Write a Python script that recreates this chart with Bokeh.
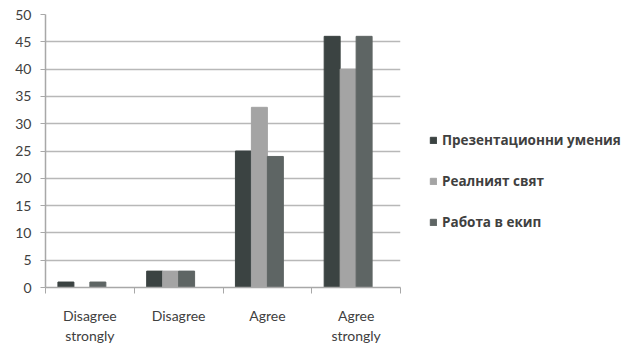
from bokeh.plotting import figure
from bokeh.models import (Range1d, FixedTicker, Legend, LegendItem, ColumnDataSource, LinearAxis)
from bokeh.embed import file_html
from bokeh.resources import INLINE

categories = ["Disagree\nstrongly", "Disagree", "Agree", "Agree\nstrongly"]
series_names = ["Презентационни умения", "Реалният свят", "Работа в екип"]
presentation = [1, 3, 25, 46]
real_world = [0, 3, 33, 40]
teamwork = [1, 3, 24, 46]
y_ticks = list(range(0, 51, 5))

colors = ["#3b4342", "#a4a4a4", "#5e6564"]
offsets = [-0.27, -0.09, 0.09]
bar_w = 0.18

p = figure(frame_width=355, frame_height=273, output_backend="svg", toolbar_location=None,
           x_range=Range1d(0, len(categories)), y_range=Range1d(0, 50),
           x_axis_location=None, y_axis_location=None,
           min_border_left=45, min_border_right=225, min_border_top=14, min_border_bottom=63)
p.outline_line_color = None
p.background_fill_color = "white"
p.border_fill_color = "white"

centers = [i + 0.5 for i in range(len(categories))]
xa = LinearAxis(ticker=FixedTicker(ticks=centers, minor_ticks=list(range(len(categories) + 1))))
xa.major_label_overrides = {c: lab for c, lab in zip(centers, categories)}
xa.major_tick_line_color = None
xa.minor_tick_line_color = "#a8a8a8"
xa.minor_tick_out = 6
xa.minor_tick_in = 0
xa.axis_line_color = "#a8a8a8"
xa.axis_line_width = 1.5
xa.major_label_text_font = "Lato"
xa.major_label_text_font_size = "14px"
xa.major_label_text_color = "#404040"
xa.major_label_standoff = 13
p.add_layout(xa, "below")

ya = LinearAxis(ticker=FixedTicker(ticks=y_ticks))
ya.major_tick_out = 5
ya.major_tick_in = 0
ya.minor_tick_line_color = None
ya.major_tick_line_color = "#a8a8a8"
ya.axis_line_color = "#a8a8a8"
ya.axis_line_width = 1.5
ya.major_label_text_font = "Lato"
ya.major_label_text_font_size = "14px"
ya.major_label_text_color = "#404040"
ya.major_label_standoff = 9
p.add_layout(ya, "left")

p.xgrid.visible = False
p.ygrid.ticker = FixedTicker(ticks=y_ticks)
p.ygrid.grid_line_color = "#b8b8b8"
p.ygrid.grid_line_width = 1.5

items = []
for name, vals, col, off in zip(series_names, [presentation, real_world, teamwork], colors, offsets):
    src = ColumnDataSource(dict(x=[c + off for c in centers], top=vals))
    r = p.vbar(x="x", top="top", width=bar_w, source=src, fill_color=col, line_color=col)
    items.append(LegendItem(label=name, renderers=[r]))

legend = Legend(items=items, location=(29, 56), orientation="vertical")
legend.border_line_color = None
legend.background_fill_alpha = 0
legend.label_text_font = "Open Sans"
legend.label_text_font_style = "bold"
legend.label_text_font_size = "13.5px"
legend.label_text_color = "#404040"
legend.glyph_width = 8
legend.glyph_height = 8
legend.label_standoff = 5
legend.label_height = 16
legend.spacing = 23
legend.padding = 0
legend.margin = 0
p.add_layout(legend, "right")

open("out.html", "w").write(file_html(p, INLINE))
